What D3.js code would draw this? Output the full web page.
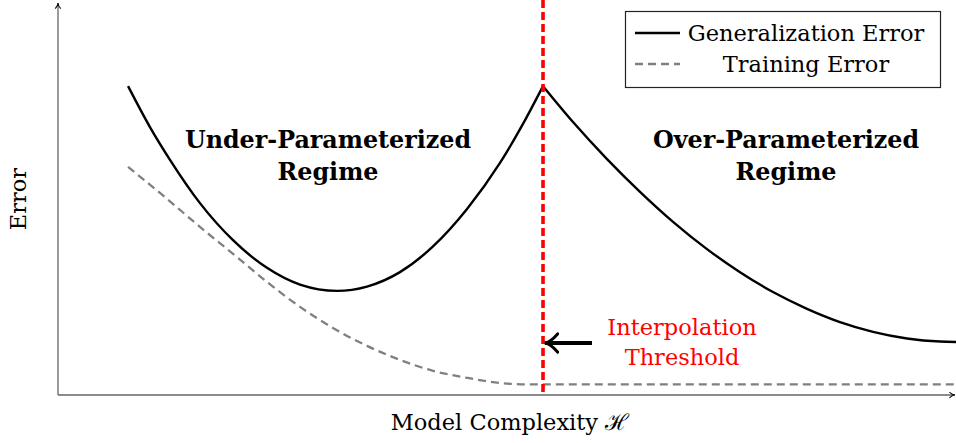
<!DOCTYPE html>
<html>
<head>
<meta charset="utf-8">
<script src="https://cdn.jsdelivr.net/npm/d3@7"></script>
<style>
  body { margin: 0; background: #fff; }
  text { font-family: "DejaVu Serif", "Liberation Serif", serif; }
</style>
</head>
<body>
<div id="chart"></div>
<script>
// model complexity (x) and error (y)
var genUnderX = [0.780, 1.024, 1.247, 1.581, 1.949, 2.327, 2.695, 3.107, 3.441, 3.808, 4.176, 4.555, 4.922, 5.178, 5.401];
var genUnderY = [0.792, 0.687, 0.603, 0.492, 0.397, 0.326, 0.283, 0.267, 0.278, 0.315, 0.381, 0.477, 0.595, 0.695, 0.792];

var genOverX = [5.401, 5.735, 6.114, 6.481, 6.849, 7.227, 7.595, 7.962, 8.341, 8.708, 9.076, 9.454, 9.822, 10.0];
var genOverY = [0.792, 0.700, 0.605, 0.521, 0.444, 0.374, 0.315, 0.264, 0.221, 0.187, 0.162, 0.145, 0.137, 0.136];

var trainX = [0.780, 1.214, 1.581, 1.949, 2.327, 2.695, 3.062, 3.441, 3.808, 4.176, 4.555, 4.922, 5.256, 10.0];
var trainY = [0.585, 0.503, 0.431, 0.362, 0.290, 0.226, 0.172, 0.126, 0.090, 0.062, 0.044, 0.031, 0.027, 0.027];

var threshold = 5.401;
var legendLabels = ['Generalization Error', 'Training Error'];

var width = 956,
    height = 443,
    margin = {top: 5, right: 0, bottom: 48, left: 58};

var svg = d3.select('#chart')
    .append('svg')
    .attr('width', width)
    .attr('height', height);

var x = d3.scaleLinear().domain([0, 10]).range([margin.left, width - margin.right]);
var y = d3.scaleLinear().domain([0, 1]).range([height - margin.bottom, margin.top]);

function zip(xs, ys) {
    return xs.map(function(v, i) { return [v, ys[i]]; });
}

var line = d3.line()
    .x(d => x(d[0]))
    .y(d => y(d[1]))
    .curve(d3.curveMonotoneX);

// arrow markers
var defs = svg.append('defs');
defs.append('marker')
    .attr('id', 'axis-arrow')
    .attr('viewBox', '0 0 10 10')
    .attr('refX', 9).attr('refY', 5)
    .attr('markerWidth', 7).attr('markerHeight', 7)
    .attr('markerUnits', 'userSpaceOnUse')
    .attr('orient', 'auto')
    .append('path')
    .attr('d', 'M1,1 Q5,5 9,5 Q5,5 1,9')
    .attr('fill', 'none')
    .attr('stroke', '#111')
    .attr('stroke-width', 1.6);

defs.append('marker')
    .attr('id', 'big-arrow')
    .attr('viewBox', '0 0 10 10')
    .attr('refX', 9).attr('refY', 5)
    .attr('markerWidth', 16).attr('markerHeight', 22)
    .attr('markerUnits', 'userSpaceOnUse')
    .attr('orient', 'auto')
    .attr('preserveAspectRatio', 'none')
    .append('path')
    .attr('d', 'M1,0.8 Q6,5 9.3,5 Q6,5 1,9.2')
    .attr('fill', 'none')
    .attr('stroke', '#000')
    .attr('stroke-width', 3)
    .attr('vector-effect', 'non-scaling-stroke')
    .attr('stroke-linecap', 'round');

// axes
var xr = x.range(), yr = y.range();
svg.append('line')
    .attr('x1', xr[0]).attr('y1', yr[0])
    .attr('x2', xr[1] - 1).attr('y2', yr[0])
    .attr('stroke', '#666').attr('stroke-width', 1.3)
    .attr('marker-end', 'url(#axis-arrow)');
svg.append('line')
    .attr('x1', xr[0]).attr('y1', yr[0])
    .attr('x2', xr[0]).attr('y2', yr[1] - 2)
    .attr('stroke', '#666').attr('stroke-width', 1.3)
    .attr('marker-end', 'url(#axis-arrow)');

// curves
svg.append('path')
    .datum(zip(trainX, trainY))
    .attr('d', line)
    .attr('fill', 'none')
    .attr('stroke', '#808080')
    .attr('stroke-width', 2.3)
    .attr('stroke-dasharray', '8,5');

[zip(genUnderX, genUnderY), zip(genOverX, genOverY)].forEach(function(d) {
    svg.append('path')
        .datum(d)
        .attr('d', line)
        .attr('fill', 'none')
        .attr('stroke', '#000')
        .attr('stroke-width', 2.4);
});

// interpolation threshold
svg.append('line')
    .attr('x1', x(threshold)).attr('x2', x(threshold))
    .attr('y1', 0).attr('y2', y(0))
    .attr('stroke', '#ff0000')
    .attr('stroke-width', 3.6)
    .attr('stroke-dasharray', '8,4');

svg.append('line')
    .attr('x1', x(threshold) + 49).attr('y1', 343)
    .attr('x2', x(threshold) + 2).attr('y2', 343)
    .attr('stroke', '#000')
    .attr('stroke-width', 4)
    .attr('marker-end', 'url(#big-arrow)');

svg.append('text')
    .attr('text-anchor', 'middle')
    .attr('fill', '#ff0000')
    .attr('font-size', 22.5)
    .selectAll('tspan')
    .data(['Interpolation', 'Threshold'])
    .enter()
    .append('tspan')
    .attr('x', x(threshold) + 139)
    .attr('y', (d, i) => 335 + i * 30)
    .text(d => d);

// regime labels
var regimes = [
    {cx: 328, lines: ['Under-Parameterized', 'Regime']},
    {cx: 786, lines: ['Over-Parameterized', 'Regime']}
];
regimes.forEach(function(r) {
    svg.append('text')
        .attr('text-anchor', 'middle')
        .attr('font-size', 23.8)
        .attr('font-weight', 'bold')
        .selectAll('tspan')
        .data(r.lines)
        .enter()
        .append('tspan')
        .attr('x', r.cx)
        .attr('y', (d, i) => 148 + i * 32)
        .text(d => d);
});

// axis labels
svg.append('text')
    .attr('transform', 'translate(26,199) rotate(-90)')
    .attr('text-anchor', 'middle')
    .attr('font-size', 22.5)
    .text('Error');

svg.append('text')
    .attr('x', 510).attr('y', 430)
    .attr('text-anchor', 'middle')
    .attr('font-size', 22.5)
    .text('Model Complexity ℋ');

// legend
var legend = svg.append('g').attr('class', 'legend');
legend.append('rect')
    .attr('x', 625.5).attr('y', 11.5)
    .attr('width', 315).attr('height', 76)
    .attr('fill', '#fff')
    .attr('stroke', '#222')
    .attr('stroke-width', 1.2);

legend.selectAll('line.key')
    .data(legendLabels)
    .enter()
    .append('line')
    .attr('class', 'key')
    .attr('x1', 635).attr('x2', 680)
    .attr('y1', (d, i) => 33 + i * 31)
    .attr('y2', (d, i) => 33 + i * 31)
    .attr('stroke', (d, i) => i === 0 ? '#000' : '#808080')
    .attr('stroke-width', 2.3)
    .attr('stroke-dasharray', (d, i) => i === 0 ? null : '8,5');

legend.selectAll('text.label')
    .data(legendLabels)
    .enter()
    .append('text')
    .attr('class', 'label')
    .attr('x', 806)
    .attr('y', (d, i) => 41 + i * 31)
    .attr('text-anchor', 'middle')
    .attr('font-size', 22.5)
    .text(d => d);
</script>
</body>
</html>
